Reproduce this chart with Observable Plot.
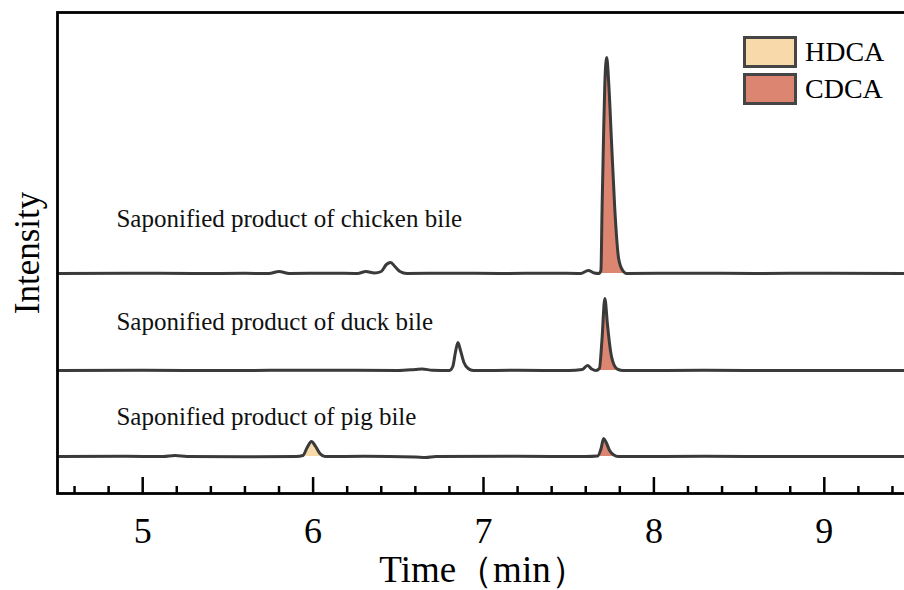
<!DOCTYPE html>
<html>
<head>
<meta charset="utf-8">
<script src="https://cdn.jsdelivr.net/npm/d3@7"></script>
<script src="https://cdn.jsdelivr.net/npm/@observablehq/plot@0.6"></script>
<style>
  html, body { margin: 0; padding: 0; background: #fff; overflow: hidden; }
  #wrap { position: relative; width: 904px; height: 590px; overflow: hidden; }
  #wrap svg { max-width: none !important; width: 912px !important; height: 590px !important; }
  .legend { position: absolute; left: 743px; top: 33px; font-family: "Liberation Serif", "Times New Roman", serif; font-size: 28px; color: #000; }
  .legend .row { display: flex; align-items: center; height: 37px; }
  .legend .sw { width: 48px; height: 26px; border: 3px solid #454545; margin-right: 8px; box-sizing: content-box; }
</style>
</head>
<body>
<div id="wrap"></div>
<script>
// ---- data (time in min, signal height above each trace's baseline) ----
const chicken = [[4.51,0],[4.9,0.3],[5.3,0],[5.6,0.2],[5.74,0],[5.80,2],[5.86,0],[6.1,0.3],[6.26,0],[6.31,2],[6.36,0.5],[6.40,2],[6.43,9],[6.455,11],[6.48,7],[6.51,2],[6.55,0],[6.8,0.3],[7.1,0],[7.4,0.3],[7.57,0],[7.615,3],[7.65,0.5],[7.677,0],[7.689,3],[7.696,66],[7.704,133],[7.712,190],[7.723,216],[7.735,190],[7.751,133],[7.770,66],[7.793,15],[7.817,3],[7.840,0],[8.2,0.3],[8.6,0],[9.0,0.3],[9.5,0]];
const duck = [[4.51,0],[5.0,0.2],[5.5,0],[6.0,0.3],[6.5,0],[6.6,1],[6.64,1.5],[6.7,0.3],[6.8,0],[6.82,4],[6.835,18],[6.85,28],[6.865,20],[6.885,8],[6.91,2],[6.94,0],[7.2,0.2],[7.5,0],[7.58,1],[7.61,5],[7.635,1.5],[7.66,0],[7.68,2],[7.695,30],[7.712,72],[7.728,45],[7.745,20],[7.765,6],[7.79,1],[7.82,0],[8.3,0.2],[8.8,0],[9.5,0]];
const pig = [[4.51,0],[4.9,0.2],[5.12,0],[5.19,1],[5.26,0],[5.6,-0.3],[5.9,0],[5.94,1],[5.965,9],[5.99,15],[6.015,10],[6.04,3],[6.07,0],[6.3,0.2],[6.6,-0.5],[6.66,-1],[6.72,0],[7.2,0.2],[7.6,0],[7.67,0.5],[7.69,8],[7.705,18],[7.72,14],[7.74,6],[7.765,1.5],[7.79,0],[8.3,0.2],[8.8,0],[9.5,0]];

const sampleNames = ["chicken", "duck", "pig"];
const sampleOffsets = [220, 123, 37];
const sampleLabels = ["Saponified product of chicken bile", "Saponified product of duck bile", "Saponified product of pig bile"];
const labelTime = [4.846, 4.846, 4.846];
const labelLevel = [275, 172, 77];

const peakSample = ["pig", "pig", "duck", "chicken"];
const peakCompound = ["HDCA", "CDCA", "CDCA", "CDCA"];
const peakFrom = [5.9, 7.6, 7.66, 7.677];
const peakTo = [6.07, 7.79, 7.82, 7.840];

const compounds = ["HDCA", "CDCA"];
const compoundColors = ["#F7D9AA", "#DC8671"];

const majorTicks = [5, 6, 7, 8, 9];
const minorTicks = [4.6, 4.8, 5.2, 5.4, 5.6, 5.8, 6.2, 6.4, 6.6, 6.8, 7.2, 7.4, 7.6, 7.8, 8.2, 8.4, 8.6, 8.8, 9.2, 9.4];

// ---- build tables ----
const traceData = {chicken, duck, pig};
const rows = sampleNames.flatMap((s, i) =>
  traceData[s].map(([t, v]) => ({sample: s, t, base: sampleOffsets[i], y: sampleOffsets[i] + v})));
const fills = peakSample.flatMap((s, k) =>
  rows.filter(r => r.sample === s && r.t >= peakFrom[k] && r.t <= peakTo[k])
      .map(r => ({...r, peak: k, compound: peakCompound[k]})));
const labels = sampleLabels.map((text, i) => ({text, t: labelTime[i], y: labelLevel[i]}));

const font = "'Liberation Serif', 'Times New Roman', serif";

const chart = Plot.plot({
  width: 912,
  height: 590,
  marginLeft: 57,
  marginRight: 3,
  marginTop: 12,
  marginBottom: 97,
  style: {fontFamily: font, background: "white", color: "#000"},
  x: {domain: [4.5, 9.5]},
  y: {domain: [0, 481], axis: null},
  color: {domain: compounds, range: compoundColors},
  marks: [
    Plot.areaY(fills, {x: "t", y1: "base", y2: "y", z: "peak", fill: "compound", curve: "monotone-x"}),
    Plot.lineY(rows, {x: "t", y: "y", z: "sample", stroke: "#3a3a3a", strokeWidth: 3, curve: "monotone-x", strokeLinejoin: "round"}),
    Plot.text(labels, {x: "t", y: "y", text: "text", textAnchor: "start", lineAnchor: "middle", fontSize: 25, fill: "#111"}),
    Plot.ruleX(majorTicks, {x: d => d, y1: 0, y2: 16, stroke: "#000", strokeWidth: 2.5}),
    Plot.ruleX(minorTicks, {x: d => d, y1: 0, y2: 7, stroke: "#000", strokeWidth: 2.5}),
    Plot.axisX({ticks: majorTicks, tickSize: 0, tickPadding: 24, fontSize: 36, label: null, tickFormat: d => String(d)}),
    Plot.text(["Time（min）"], {frameAnchor: "bottom", textAnchor: "middle", lineAnchor: "middle", dy: 77, fontSize: 37, fill: "#000"}),
    Plot.text(["Intensity"], {frameAnchor: "left", textAnchor: "middle", lineAnchor: "middle", rotate: -90, dx: -30, fontSize: 35, fill: "#000"}),
    Plot.frame({stroke: "#000", strokeWidth: 2.8})
  ]
});

const wrap = document.getElementById("wrap");
wrap.appendChild(chart);

const legend = document.createElement("div");
legend.className = "legend";
legend.innerHTML = compounds.map((c, i) =>
  `<div class="row"><div class="sw" style="background:${compoundColors[i]}"></div><span>${c}</span></div>`).join("");
wrap.appendChild(legend);
</script>
</body>
</html>
